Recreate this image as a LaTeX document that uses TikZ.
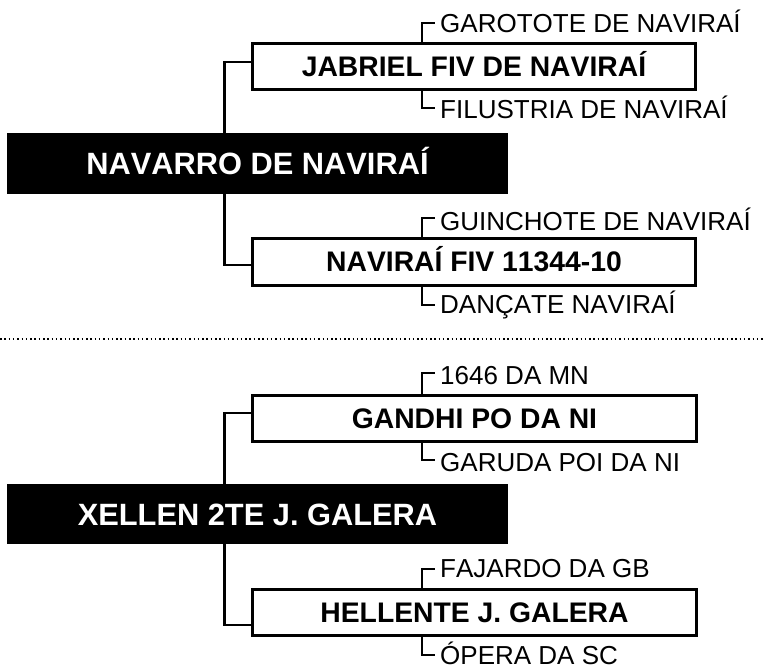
\documentclass[tikz,border=0pt]{standalone}
\usepackage{fontspec}
\setmainfont{Liberation Sans}[Kerning=Off]
\begin{document}
\begin{tikzpicture}[x=1pt,y=-1pt]
\tikzset{
 rootbox/.style={fill=black, text=white, font=\fontsize{30.8}{36}\selectfont\bfseries, minimum width=501pt, inner sep=0pt, text height=22pt, text depth=0pt},
 childbox/.style={draw, line width=3pt, fill=white, minimum width=443pt, minimum height=46pt, inner sep=0pt, font=\fontsize{28.3}{34}\selectfont\bfseries, text height=20.3pt, text depth=0pt},
 leaf/.style={anchor=base west, inner sep=0pt, font=\fontsize{26}{30}\selectfont},
 link/.style={line width=2.7pt},
 tick/.style={line width=2.2pt},
 sep/.style={line width=1.5pt, dash pattern=on 1.5pt off 2.8pt}
}
\useasboundingbox (0,0) rectangle (763,665);
% top block
\node[rootbox, minimum height=61pt] (r1) at (257.5,163.5) {NAVARRO DE NAVIRAÍ};
\node[childbox] (c1) at (474,66.5) {JABRIEL FIV DE NAVIRAÍ};
\node[childbox, minimum height=47pt] (c2) at (474,261.5) {NAVIRAÍ FIV 11344-10};
\node[leaf] (l1) at (440,32) {GAROTOTE DE NAVIRAÍ};
\node[leaf] (l2) at (440,118) {FILUSTRIA DE NAVIRAÍ};
\node[leaf] (l3) at (440,230) {GUINCHOTE DE NAVIRAÍ};
\node[leaf] (l4) at (440,313) {DANÇATE NAVIRAÍ};
\coordinate (j1) at (224.5,62);
\coordinate (j2) at (224.5,265);
\draw[link] (c1.west |- j1) -- (j1) -- (j1 |- r1.north);
\draw[link] (r1.south -| j2) -- (j2) -- (c2.west |- j2);
\coordinate (k1) at (422,23);
\coordinate (k2) at (422,108);
\coordinate (k3) at (422,218);
\coordinate (k4) at (422,305);
\draw[tick] (c1.north -| k1) |- ([xshift=-5pt]l1.base west |- k1);
\draw[tick] (c1.south -| k2) |- ([xshift=-5pt]l2.base west |- k2);
\draw[tick] (c2.north -| k3) |- ([xshift=-5pt]l3.base west |- k3);
\draw[tick] (c2.south -| k4) |- ([xshift=-5pt]l4.base west |- k4);
% separator
\coordinate (dl) at (0,339);
\coordinate (dr) at (763,339);
\draw[sep] (dl) -- (dr);
% bottom block
\node[rootbox, minimum height=60pt] (r2) at (257.5,514) {XELLEN 2TE J. GALERA};
\node[childbox, minimum width=444pt] (c3) at (474.5,418) {GANDHI PO DA NI};
\node[childbox, minimum width=444pt] (c4) at (474.5,612) {HELLENTE J. GALERA};
\node[leaf] (l5) at (440,384) {1646 DA MN};
\node[leaf] (l6) at (440,471) {GARUDA POI DA NI};
\node[leaf] (l7) at (440,577) {FAJARDO DA GB};
\node[leaf] (l8) at (440,664) {ÓPERA DA SC};
\coordinate (j3) at (224.5,413);
\coordinate (j4) at (224.5,625);
\draw[link] (c3.west |- j3) -- (j3) -- (j3 |- r2.north);
\draw[link] (r2.south -| j4) -- (j4) -- (c4.west |- j4);
\coordinate (k5) at (422,373);
\coordinate (k6) at (422,460);
\coordinate (k7) at (422,569);
\coordinate (k8) at (422,655);
\draw[tick] (c3.north -| k5) |- ([xshift=-5pt]l5.base west |- k5);
\draw[tick] (c3.south -| k6) |- ([xshift=-5pt]l6.base west |- k6);
\draw[tick] (c4.north -| k7) |- ([xshift=-5pt]l7.base west |- k7);
\draw[tick] (c4.south -| k8) |- ([xshift=-5pt]l8.base west |- k8);
\end{tikzpicture}
\end{document}
